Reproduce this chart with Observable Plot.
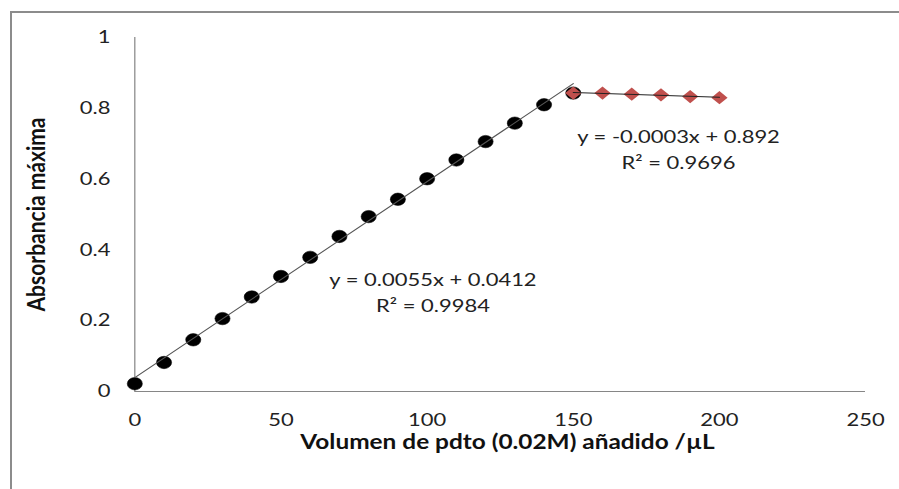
<!DOCTYPE html>
<html>
<head>
<meta charset="utf-8">
<script src="https://cdn.jsdelivr.net/npm/d3@7"></script>
<script src="https://cdn.jsdelivr.net/npm/@observablehq/plot@0.6"></script>
<style>
  html, body { margin: 0; padding: 0; background: #fff; overflow: hidden; width: 899px; height: 489px; }
  #chart svg { transform: scaleX(1.22); transform-origin: 0 0; display: block; }
  #frame { position: absolute; left: 10px; top: 11px; width: 1000px; height: 1000px; border: 2px solid #8c8c8c; pointer-events: none; }
</style>
</head>
<body>
<div id="chart"></div>
<div id="frame"></div>
<script>
// --- data ---
const xBlack = [0, 10, 20, 30, 40, 50, 60, 70, 80, 90, 100, 110, 120, 130, 140, 150];
const yBlack = [0.022, 0.082, 0.146, 0.206, 0.267, 0.325, 0.379, 0.438, 0.494, 0.543, 0.601, 0.654, 0.706, 0.758, 0.810, 0.843];
const xRed = [150, 160, 170, 180, 190, 200];
const yRed = [0.843, 0.843, 0.840, 0.838, 0.833, 0.830];
const xTicks = [0, 50, 100, 150, 200, 250];
const yTicks = [0, 0.2, 0.4, 0.6, 0.8, 1];
const xTitle = "Volumen de pdto (0.02M) añadido /µL";
const yTitle = "Absorbancia máxima";
const eqTexts = ["y = 0.0055x + 0.0412\nR² = 0.9984", "y = -0.0003x + 0.892\nR² = 0.9696"];
const eqX = [102, 186];
const eqY = [0.284, 0.688];

const black = xBlack.map((x, i) => ({x, y: yBlack[i]}));
const red = xRed.map((x, i) => ({x, y: yRed[i]}));
const eqs = eqTexts.map((t, i) => ({t, x: eqX[i], y: eqY[i]}));

const S = 1.22; // horizontal stretch of the reference
const chart = Plot.plot({
  width: Math.round(899 / S),
  height: 489,
  marginLeft: 110,
  marginRight: 28,
  marginTop: 37,
  marginBottom: 98,
  style: {fontFamily: "Lato, sans-serif", fontSize: "18px", color: "#222", background: "transparent"},
  x: {domain: [0, 250]},
  y: {domain: [0, 1]},
  marks: [
    Plot.ruleX([0], {stroke: "#868686", strokeWidth: 1}),
    Plot.ruleY([0], {stroke: "#868686", strokeWidth: 1}),
    Plot.axisX({ticks: xTicks, tickSize: 0, tickPadding: 22, tickFormat: d => String(d), label: null, fontSize: 18}),
    Plot.axisY({ticks: yTicks, tickSize: 0, tickPadding: 20, tickFormat: d => String(d), label: null, fontSize: 18}),
    Plot.dot(black, {x: "x", y: "y", r: 6.2, fill: "#000", stroke: "#000", strokeWidth: 0.5}),
    Plot.dot(red, {x: "x", y: "y", r: 6, symbol: "diamond2", fill: "#c0504d"}),
    Plot.linearRegressionY(black, {x: "x", y: "y", ci: 0, stroke: "#555", strokeWidth: 1}),
    Plot.linearRegressionY(red, {x: "x", y: "y", ci: 0, stroke: "#222", strokeWidth: 1}),
    Plot.text(eqs, {x: "x", y: "y", text: "t", fontSize: 18, lineHeight: 1.4, fill: "#222", textAnchor: "middle", lineAnchor: "middle"}),
    Plot.text([xTitle], {text: d => d, frameAnchor: "bottom", textAnchor: "middle", dx: 6, dy: 51, fontSize: 20, fontWeight: "bold", fill: "#111", lineAnchor: "middle"}),
    Plot.text([yTitle], {text: d => d, frameAnchor: "left", textAnchor: "middle", dx: -80, rotate: -90, fontSize: 21, fontWeight: "bold", fill: "#111", lineAnchor: "middle"})
  ]
});
document.getElementById("chart").appendChild(chart);
</script>
</body>
</html>
